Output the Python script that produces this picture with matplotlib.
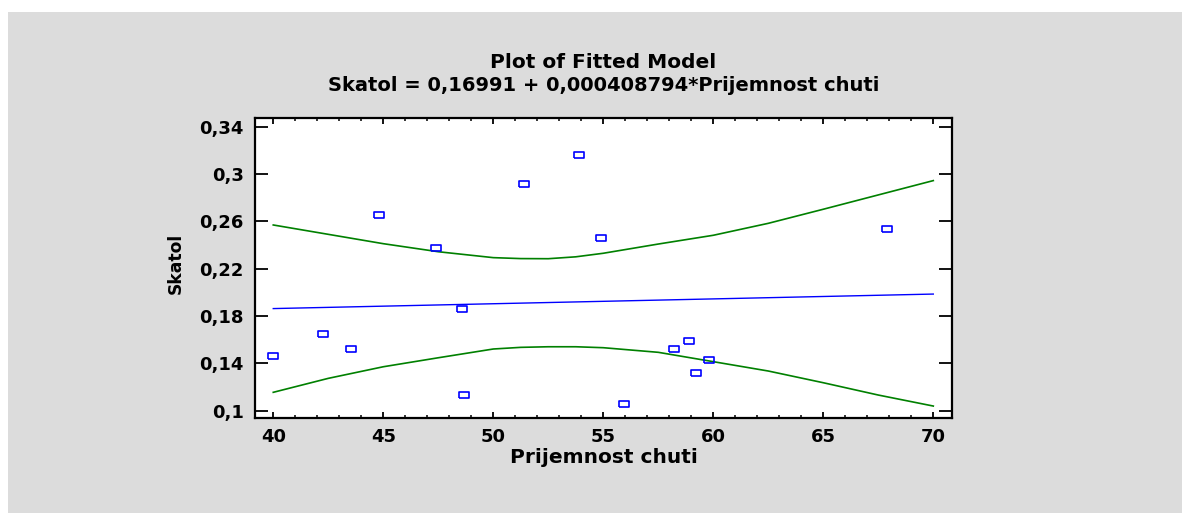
import numpy as np
import matplotlib
matplotlib.use("Agg")
import matplotlib.pyplot as plt
from matplotlib.patches import Rectangle
from matplotlib.ticker import FuncFormatter, MultipleLocator

# observed values
prijemnost = [40.0, 42.26, 43.53, 44.79, 47.40, 48.58, 48.67, 51.38,
              53.90, 54.91, 55.93, 58.20, 58.88, 59.21, 59.80, 67.90]
skatol = [0.1464, 0.1650, 0.1520, 0.2656, 0.2377, 0.1856, 0.1132, 0.2916,
          0.3163, 0.2462, 0.1056, 0.1520, 0.1586, 0.1315, 0.1425, 0.2535]

# fitted model coefficients
intercept = 0.16991
slope = 0.000408794

# limit curves around the fit
limit_x = [40, 42.5, 45, 47.5, 50, 51.25, 52.5, 53.75, 55, 57.5, 60, 62.5,
           65, 67.5, 70]
upper_limit = [0.2569, 0.2490, 0.2411, 0.2343, 0.2293, 0.2285, 0.2284,
               0.2300, 0.2330, 0.2408, 0.2482, 0.2583, 0.2702, 0.2823, 0.2944]
lower_limit = [0.1155, 0.1273, 0.1371, 0.1447, 0.1521, 0.1535, 0.1540,
               0.1540, 0.1532, 0.1493, 0.1414, 0.1335, 0.1236, 0.1132, 0.1039]

y_ticks = [0.10, 0.14, 0.18, 0.22, 0.26, 0.30, 0.34]
x_ticks = [40, 45, 50, 55, 60, 65, 70]

plt.rcParams['font.family'] = ['DejaVu Sans']
plt.rcParams['font.weight'] = 'bold'

W, H = 1182, 513
fig = plt.figure(figsize=(W / 100, H / 100), dpi=100)
fig.patch.set_facecolor('white')
fig.patches.append(Rectangle((8 / W, 0), 1 - 8 / W, 1 - 12 / H,
                             transform=fig.transFigure,
                             facecolor='#dcdcdc', edgecolor='none', zorder=-10))

ax = fig.add_axes([255 / W, 95 / H, 697 / W, 300 / H])
ax.set_facecolor('white')

fit_x = np.array([limit_x[0], limit_x[-1]])
ax.plot(fit_x, intercept + slope * fit_x, color='#0000ff', lw=1.0)
ax.plot(limit_x, upper_limit, color='#008000', lw=1.2)
ax.plot(limit_x, lower_limit, color='#008000', lw=1.2)

box = [(-1, -0.72), (1, -0.72), (1, 0.72), (-1, 0.72), (-1, -0.72)]
ax.plot(prijemnost, skatol, linestyle='none', marker=box, markersize=6.8,
        markerfacecolor='none', markeredgecolor='#0000ff', markeredgewidth=1.2)

ax.set_xlim(39.17, 70.85)
ax.set_ylim(0.0938, 0.3473)
ax.set_xticks(x_ticks)
ax.xaxis.set_minor_locator(MultipleLocator(1))
ax.set_yticks(y_ticks)
ax.yaxis.set_major_formatter(FuncFormatter(lambda v, p: f"{v:g}".replace('.', ',')))

for s in ax.spines.values():
    s.set_linewidth(1.6)
ax.tick_params(axis='x', which='major', direction='in', length=4.5, width=1.3,
               top=True, labelsize=13, pad=7)
ax.tick_params(axis='x', which='minor', direction='in', length=2.3, width=1.1,
               top=True)
ax.tick_params(axis='y', which='major', direction='in', length=9.5, width=1.3,
               right=True, labelsize=13, pad=8)

ax.set_xlabel('Prijemnost chuti', fontsize=14.5, fontweight='bold', va='baseline')
ax.xaxis.set_label_coords(0.5, -0.15)
ax.set_ylabel('Skatol', fontsize=12.3, fontweight='bold', va='center')
ax.yaxis.set_label_coords(-0.113, 0.515)

ax.text(0.5, 1.168, 'Plot of Fitted Model', transform=ax.transAxes,
        ha='center', va='baseline', fontsize=14.5, fontweight='bold')
ax.text(0.5, 1.09, 'Skatol = 0,16991 + 0,000408794*Prijemnost chuti',
        transform=ax.transAxes, ha='center', va='baseline',
        fontsize=14, fontweight='bold')

fig.savefig('out.png', dpi=100)
